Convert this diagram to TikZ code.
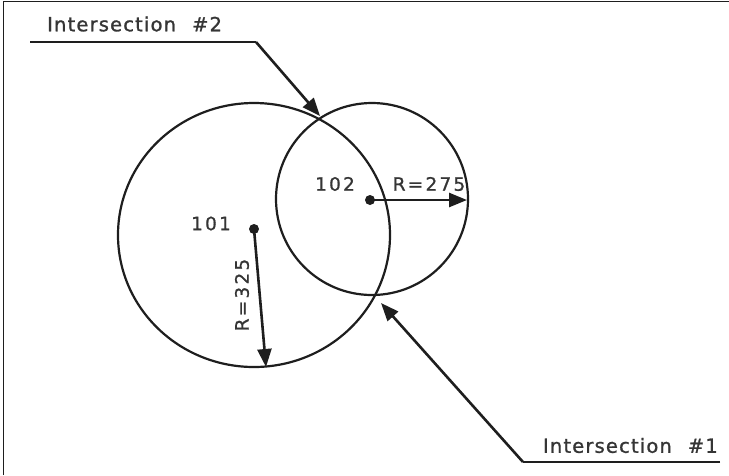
\documentclass[tikz,border=0pt]{standalone}
\usepackage{fontspec}
\usetikzlibrary{arrows.meta,shapes.geometric}
\newfontfamily\labfont[LetterSpace=6,FakeBold=1.2]{DejaVu Sans}
\newfontfamily\numfont[LetterSpace=12,FakeBold=0.8]{DejaVu Sans}
\definecolor{ink}{HTML}{1E1E1E}
\begin{document}
\begin{tikzpicture}[x=1pt,y=-1pt,
  ring/.style={draw=ink,line width=2.2pt,inner sep=0pt,outer sep=0pt},
  ptr/.style={draw=ink,line width=2.6pt,-{Triangle[length=18pt,width=14pt]}},
  lead/.style={draw=ink,line width=2.8pt},
  dotmark/.style={circle,fill=ink,inner sep=0pt,minimum size=10pt},
  lab/.style={text=ink!90,font=\labfont\fontsize{19.5}{21}\selectfont,inner sep=0pt},
  num/.style={text=ink!90,font=\numfont\fontsize{18.5}{20}\selectfont,inner sep=0pt}]
\useasboundingbox (0,0) rectangle (729,475);
\fill[white] (0,0) rectangle (729,475);
% frame
\draw[ink,line width=1.8pt] (3.5,475) -- (3.5,1.5) -- (729,1.5);
% circles
\node[ring,ellipse,minimum width=272pt,minimum height=264pt] (c1) at (254,235) {};
\node[ring,circle,minimum size=192pt] (c2) at (372,199) {};
% centres
\node[dotmark] (d1) at (254,229) {};
\node[dotmark] (d2) at (370,200) {};
\node[num] (n1) at (211,223.5) {101};
\node[num] (n2) at (335,184) {102};
% radius arrows
\coordinate (r1) at (266,367);
\coordinate (r2) at (467,200);
\draw[ptr] (d1.center) -- (r1);
\draw[ptr] (d2.center) -- (r2);
\node[num] (t1) at (242,295) [rotate=90] {R=325};
\node[num] (t2) at (429,184) {R=275};
% intersection labels
\node[lab,anchor=west] (i2) at (47,24) {Intersection\hspace{16pt}\#2};
\node[lab,anchor=east] (i1) at (718,445.5) {Intersection\hspace{16pt}\#1};
\coordinate (a2) at (30,42);
\coordinate (b2) at (256,42);
\coordinate (p2) at (320,116);
\coordinate (a1) at (720,462);
\coordinate (b1) at (523,462);
\coordinate (p1) at (381,303);
\draw[lead] (a2) -- (b2);
\draw[ptr] (b2) -- (p2);
\draw[lead] (a1) -- (b1);
\draw[ptr] (b1) -- (p1);
\end{tikzpicture}
\end{document}
